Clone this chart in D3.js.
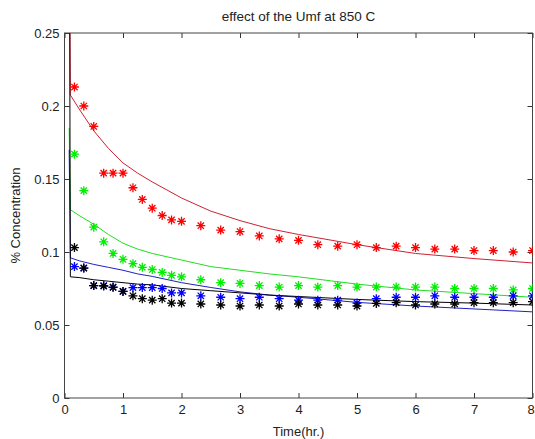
<!DOCTYPE html>
<meta charset="utf-8">
<style>

body {
  margin: 0;
  background: #fff;
}

text {
  font-family: "Liberation Sans", Arial, sans-serif;
  fill: #222;
}

.axis text {
  font-size: 13px;
}

.axis line {
  stroke: #333;
}

.curve {
  fill: none;
  stroke-width: 1px;
}

.star {
  fill: none;
  stroke-width: 1.3px;
}

</style>
<svg width="535" height="439"></svg>
<script src="https://cdn.jsdelivr.net/npm/d3@7"></script>
<script>

// sample times of the measurements (hr)
var time = [0.17, 0.33, 0.5, 0.67, 0.83, 1, 1.17, 1.33, 1.5, 1.67, 1.83, 2,
            2.33, 2.67, 3, 3.33, 3.67, 4, 4.33, 4.67, 5, 5.33, 5.67, 6,
            6.33, 6.67, 7, 7.33, 7.67, 8];

var redPts   = [0.213, 0.200, 0.186, 0.154, 0.154, 0.154, 0.144, 0.136, 0.130, 0.125, 0.122, 0.121,
                0.118, 0.115, 0.114, 0.111, 0.109, 0.108, 0.105, 0.104, 0.105, 0.103, 0.104, 0.103,
                0.102, 0.102, 0.101, 0.101, 0.100, 0.101];
var greenPts = [0.167, 0.142, 0.117, 0.107, 0.099, 0.095, 0.092, 0.0895, 0.088, 0.086, 0.084, 0.083,
                0.081, 0.079, 0.0785, 0.077, 0.076, 0.077, 0.076, 0.077, 0.076, 0.076, 0.076, 0.076,
                0.076, 0.075, 0.075, 0.075, 0.074, 0.075];
var bluePts  = [0.090, 0.089, 0.077, 0.077, 0.076, 0.073, 0.0756, 0.0756, 0.0756, 0.075, 0.072, 0.072,
                0.070, 0.069, 0.068, 0.069, 0.068, 0.067, 0.067, 0.067, 0.065, 0.068, 0.069, 0.069,
                0.070, 0.069, 0.069, 0.069, 0.070, 0.070];
var blackPts = [0.103, 0.089, 0.077, 0.0767, 0.0758, 0.073, 0.070, 0.068, 0.067, 0.068, 0.065, 0.065,
                0.0644, 0.0637, 0.063, 0.0637, 0.063, 0.0644, 0.0637, 0.0637, 0.063, 0.0648, 0.0653, 0.0637,
                0.0644, 0.0644, 0.0653, 0.0653, 0.0653, 0.066];

// model curves
var fitTime  = [0.08, 0.1, 0.25, 0.5, 0.75, 1, 1.25, 1.5, 2, 2.5, 3, 3.5, 4, 5, 6, 7, 8];
var redFit   = [0.40, 0.2075, 0.198, 0.183, 0.171, 0.161, 0.154, 0.148, 0.137, 0.128, 0.1215, 0.116, 0.112, 0.105, 0.099, 0.0955, 0.0925];
var greenFit = [0.185, 0.129, 0.125, 0.119, 0.112, 0.106, 0.102, 0.099, 0.0945, 0.090, 0.0875, 0.085, 0.083, 0.078, 0.074, 0.0715, 0.069];
var blueFit  = [0.17, 0.096, 0.094, 0.0915, 0.0895, 0.0875, 0.085, 0.0833, 0.079, 0.0757, 0.0727, 0.0705, 0.069, 0.0655, 0.063, 0.061, 0.059];
var blackFit = [0.40, 0.083, 0.0825, 0.081, 0.080, 0.079, 0.078, 0.0775, 0.075, 0.0735, 0.072, 0.0705, 0.0695, 0.0675, 0.066, 0.065, 0.0637];

var xTicks = [0, 1, 2, 3, 4, 5, 6, 7, 8];
var yTicks = [0, 0.05, 0.1, 0.15, 0.2, 0.25];

var series = [
  {color: "#ff0000", line: "#cc2233", pts: redPts,   fit: redFit},
  {color: "#00ee00", line: "#22dd22", pts: greenPts, fit: greenFit},
  {color: "#0000ff", line: "#2020c0", pts: bluePts,  fit: blueFit},
  {color: "#000000", line: "#000000", pts: blackPts, fit: blackFit}
];

var svg = d3.select("svg"),
    mLeft = 64.5, mRight = 532.5, mTop = 33, mBottom = 398;

var x = d3.scaleLinear().domain([0, 8]).range([mLeft, mRight]);
var y = d3.scaleLinear().domain([0, 0.25]).range([mBottom, mTop]);

svg.append("clipPath").attr("id", "plotclip")
  .append("rect")
    .attr("x", mLeft).attr("y", mTop)
    .attr("width", mRight - mLeft).attr("height", mBottom - mTop);

// axes, ticks pointing inward on every side
var xAxisG = svg.append("g").attr("class", "axis")
    .attr("transform", "translate(0," + mBottom + ")")
    .call(d3.axisBottom(x).tickValues(xTicks).tickSize(-5).tickPadding(7).tickFormat(d3.format("d")));

// last label sits right on the window edge, pull it in a touch
xAxisG.selectAll(".tick text").filter(function(d) { return d === 8; }).attr("dx", "-2");

svg.append("g").attr("class", "axis")
    .attr("transform", "translate(0," + mTop + ")")
    .call(d3.axisTop(x).tickValues(xTicks).tickSize(-5).tickFormat(""));

svg.append("g").attr("class", "axis")
    .attr("transform", "translate(" + mLeft + ",0)")
    .call(d3.axisLeft(y).tickValues(yTicks).tickSize(-5).tickPadding(5).tickFormat(d3.format("~g")));

svg.append("g").attr("class", "axis")
    .attr("transform", "translate(" + mRight + ",0)")
    .call(d3.axisRight(y).tickValues(yTicks).tickSize(-5).tickFormat(""));

svg.selectAll(".axis .domain").remove();

svg.append("rect")
    .attr("x", mLeft).attr("y", mTop)
    .attr("width", mRight - mLeft).attr("height", mBottom - mTop)
    .attr("fill", "none")
    .attr("stroke", "#444");

var plot = svg.append("g").attr("clip-path", "url(#plotclip)");

var line = d3.line()
    .x(function(d) { return x(d[0]); })
    .y(function(d) { return y(d[1]); });

var r = 4.5;
var starPath = "M" + (-r) + ",0H" + r + "M0," + (-r) + "V" + r +
               "M" + (-r * 0.7) + "," + (-r * 0.7) + "L" + (r * 0.7) + "," + (r * 0.7) +
               "M" + (-r * 0.7) + "," + (r * 0.7) + "L" + (r * 0.7) + "," + (-r * 0.7);

series.forEach(function(s) {
  plot.append("path")
      .attr("class", "curve")
      .attr("stroke", s.line)
      .attr("d", line(fitTime.map(function(t, i) { return [t, s.fit[i]]; })));
});

series.forEach(function(s) {
  plot.append("g").selectAll("path")
    .data(time.map(function(t, i) { return [t, s.pts[i]]; }))
    .enter().append("path")
      .attr("class", "star")
      .attr("stroke", s.color)
      .attr("transform", function(d) { return "translate(" + x(d[0]) + "," + y(d[1]) + ")"; })
      .attr("d", starPath);
});

svg.append("text")
    .attr("x", (mLeft + mRight) / 2).attr("y", 21)
    .attr("text-anchor", "middle")
    .style("font-size", "13.5px")
    .text("effect of the Umf at 850 C");

svg.append("text")
    .attr("x", (mLeft + mRight) / 2).attr("y", 436)
    .attr("text-anchor", "middle")
    .style("font-size", "13px")
    .text("Time(hr.)");

svg.append("text")
    .attr("transform", "translate(20," + (mTop + mBottom) / 2 + ") rotate(-90)")
    .attr("text-anchor", "middle")
    .style("font-size", "13px")
    .text("% Concentration");

</script>
